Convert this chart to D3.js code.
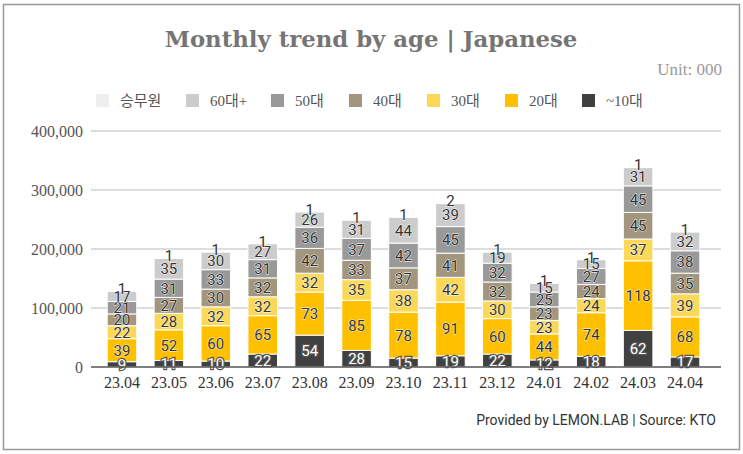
<!DOCTYPE html>
<html><head><meta charset="utf-8">
<script src="https://cdn.jsdelivr.net/npm/d3@7"></script>
<style>body{margin:0;background:#fff;} svg{display:block;}</style>
</head><body>
<script>
const months = ["23.04","23.05","23.06","23.07","23.08","23.09","23.10","23.11","23.12","24.01","24.02","24.03","24.04"];
const seriesNames = ["~10대","20대","30대","40대","50대","60대+","승무원"];
const teens   = [9,11,10,22,54,28,15,19,22,12,18,62,17];
const twenties= [39,52,60,65,73,85,78,91,60,44,74,118,68];
const thirties= [22,28,32,32,32,35,38,42,30,23,24,37,39];
const forties = [20,27,30,32,42,33,37,41,32,23,24,45,35];
const fifties = [21,31,33,31,36,37,42,45,32,25,27,45,38];
const sixties = [17,35,30,27,26,31,44,39,19,15,15,31,32];
const crew    = [1,1,1,1,1,1,1,2,1,1,1,1,1];
const yTicks = [0,100000,200000,300000,400000];
const colors = ["#404040","#ffc000","#fcd858","#a2977e","#999999","#cccccc","#eeeeee"];

const W=743,H=454;
const svg=d3.select("body").append("svg").attr("width",W).attr("height",H);
svg.append("rect").attr("x",3.5).attr("y",4.5).attr("width",736).attr("height",445)
  .attr("fill","#fff").attr("stroke","#999").attr("stroke-width",1.5);

svg.append("text").attr("x",371).attr("y",47).attr("text-anchor","middle")
  .attr("font-family","'DejaVu Serif','Liberation Serif',serif").attr("font-weight","bold")
  .attr("font-size",22.8).attr("fill","#757575").text("Monthly trend by age | Japanese");
svg.append("text").attr("x",722).attr("y",75).attr("text-anchor","end")
  .attr("font-family","'Liberation Serif',serif").attr("font-size",17).attr("fill","#999").text("Unit: 000");

const allSeries=[teens,twenties,thirties,forties,fifties,sixties,crew];
const table=months.map((m,i)=>{const o={month:m};seriesNames.forEach((s,k)=>o[s]=allSeries[k][i]*1000);return o;});
const stack=d3.stack().keys(seriesNames)(table);

const x=d3.scaleBand().domain(months).range([98.5,708.5]).paddingInner(0.37).paddingOuter(0.185);
const y=d3.scaleLinear().domain([0,400000]).range([367,131]);

// grid
const yAxis=svg.append("g").attr("transform","translate(91,0)")
  .call(d3.axisLeft(y).tickValues(yTicks).tickFormat(d3.format(",")).tickSize(0).tickPadding(8));
yAxis.select(".domain").remove();
yAxis.selectAll("text").attr("font-family","'Liberation Serif',serif").attr("font-size",16).attr("fill","#555");
svg.append("g").selectAll("line").data(yTicks.filter(d=>d>0)).join("line")
  .attr("x1",91).attr("x2",721).attr("y1",d=>y(d)).attr("y2",d=>y(d)).attr("stroke","#ddd").attr("stroke-width",2);

// legend
const legX=[96,186,271,349,427,505,582];
const legOrder=[6,5,4,3,2,1,0];
const lg=svg.append("g");
legOrder.forEach((k,i)=>{
  lg.append("rect").attr("x",legX[i]).attr("y",94).attr("width",13).attr("height",13).attr("fill",colors[k]);
  lg.append("text").attr("x",legX[i]+24).attr("y",106).attr("font-family","'Liberation Serif','Noto Sans CJK KR',serif")
    .attr("font-size",15).attr("fill","#555").text(seriesNames[k]);
});

// bars
const g=svg.append("g");
stack.forEach((layer,k)=>{
  g.selectAll(null).data(layer).join("rect")
    .attr("x",d=>x(d.data.month)).attr("width",x.bandwidth())
    .attr("y",d=>y(d[1])).attr("height",d=>y(d[0])-y(d[1]))
    .attr("fill",colors[k]).attr("stroke","#fff").attr("stroke-width",1);
});
// x axis
const xAxis=svg.append("g").attr("transform","translate(0,367)")
  .call(d3.axisBottom(x).tickSize(0).tickPadding(10));
xAxis.select(".domain").attr("stroke","#555").attr("stroke-width",1.5).attr("d","M91,0H721");
xAxis.selectAll("text").attr("font-family","'Liberation Serif',serif").attr("font-size",16).attr("fill","#333");

// labels
stack.forEach((layer,k)=>{
  g.selectAll(null).data(layer).join("text")
    .attr("x",d=>x(d.data.month)+x.bandwidth()/2)
    .attr("y",d=>k===6? y(d[1])-1 : (y(d[0])+y(d[1]))/2)
    .attr("dy", k===6? "0.3em":"0.36em")
    .attr("text-anchor","middle").attr("font-family","Roboto,sans-serif").attr("font-size",15)
    .attr("fill",k===0?"#fff":"#333")
    .attr("stroke",k===0?"#555":"#fff").attr("stroke-width",k===0?2.5:0.8).attr("paint-order","stroke")
    .text(d=>Math.round((d[1]-d[0])/1000));
});

svg.append("text").attr("x",716).attr("y",425).attr("text-anchor","end")
  .attr("font-family","Roboto,sans-serif").attr("font-size",14).attr("fill","#333")
  .text("Provided by LEMON.LAB | Source: KTO");
</script>
</body></html>
